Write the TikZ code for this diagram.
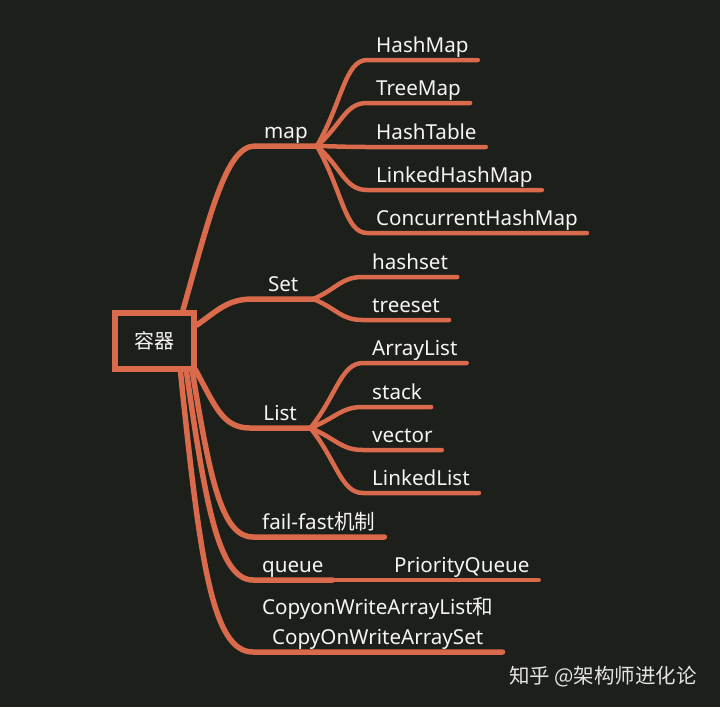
\documentclass[tikz,border=0pt]{standalone}
\usepackage{fontspec}
\setmainfont{Noto Sans}
\newfontfamily\cjk{Noto Sans CJK SC}
\usetikzlibrary{positioning,calc}

\definecolor{bgdark}{HTML}{1C1F1A}
\definecolor{mindorange}{HTML}{D96A4B}
\definecolor{labelwhite}{HTML}{F5F5F2}
\definecolor{markgray}{HTML}{E4E4E2}

\tikzset{
  txt/.style={text=labelwhite, font=\fontsize{20.6}{30}\selectfont, inner ysep=2pt},
  topic/.style={txt, anchor=south west, minimum width=60pt, inner xsep=9pt, text depth=5pt},
  leaf/.style={txt, anchor=south west, inner xsep=9pt, text depth=5pt},
  rootbox/.style={draw=mindorange, line width=6pt, fill=bgdark, minimum width=79pt, minimum height=56pt,
    text=labelwhite, font=\cjk\fontsize{20}{24}\selectfont},
  limb/.style={draw=mindorange, line width=5.5pt, line cap=round},
  twig/.style={draw=mindorange, line width=4.5pt, line cap=round},
  fan/.style={to path={.. controls ($(\tikztostart)!0.5!(\tikztotarget)$) and ($(\tikztotarget)+(-22,0)$) .. (\tikztotarget)}},
}

\begin{document}
\begin{tikzpicture}[x=1pt, y=-1pt]
  \fill[bgdark] (0,0) rectangle (720,707);
  \useasboundingbox (0,0) rectangle (720,707);

  % main topics
  \node[topic] (map) at (255,146) {map};
  \node[topic] (set) at (253,299) {Set};
  \node[topic] (list) at (250,428) {List};
  \node[leaf] (failfast) at (253,537) {fail-fast{\cjk 机制}};
  \node[leaf] (queue) at (253,580) {queue};
  \node[leaf] (pqueue) at (385,580) {PriorityQueue};
  \node[txt, anchor=south west, inner xsep=9pt, align=center] (cow) at (253,652)
    {CopyonWriteArrayList{\cjk 和}\\CopyOnWriteArraySet};

  % leaves
  \foreach \nm/\lbl/\y in {hashmap/HashMap/60, treemap/TreeMap/103, hashtable/HashTable/147,
      linkedhm/LinkedHashMap/190, concurrent/ConcurrentHashMap/233} {
    \node[leaf] (\nm) at (367,\y) {\lbl};
    \draw[twig] (map.south east) to[fan] (\nm.south west) -- (\nm.south east);
  }
  \foreach \nm/\lbl/\y in {hashset/hashset/277, treeset/treeset/320} {
    \node[leaf] (\nm) at (363,\y) {\lbl};
    \draw[twig] (set.south east) to[fan] (\nm.south west) -- (\nm.south east);
  }
  \foreach \nm/\lbl/\y in {arraylist/ArrayList/363, stack/stack/407, vector/vector/450,
      linkedlist/LinkedList/493} {
    \node[leaf] (\nm) at (363,\y) {\lbl};
    \draw[twig] (list.south east) to[fan] (\nm.south west) -- (\nm.south east);
  }

  % root and its branches
  \node[rootbox] (root) at (154.5,341) {容器};
  \draw[limb] ($(root.north east)+(-14,0)$) .. controls (210,215) and (226,146) .. (map.south west) -- (map.south east);
  \draw[limb] ($(root.east)+(0,-16)$) .. controls (218,310) and (228,299) .. (set.south west) -- (set.south east);
  \draw[limb] ($(root.south east)+(-2,-3)$) .. controls (215,405) and (222,428) .. (list.south west) -- (list.south east);
  \draw[limb] ($(root.south)+(38,0)$) .. controls (210,480) and (222,537) .. (failfast.south west) -- (failfast.south east);
  \draw[limb] ($(root.south)+(32,0)$) .. controls (205,500) and (218,580) .. (queue.south west) -- (queue.south east);
  \draw[twig] (queue.south east) -- (pqueue.south west) -- (pqueue.south east);
  \draw[limb] ($(root.south)+(26,0)$) .. controls (200,560) and (212,652) .. (cow.south west) -- (cow.south east);

  \node[text=markgray, font=\cjk\fontsize{20.5}{24}\selectfont] (mark) at (603,677) {知乎 @架构师进化论};
\end{tikzpicture}
\end{document}
